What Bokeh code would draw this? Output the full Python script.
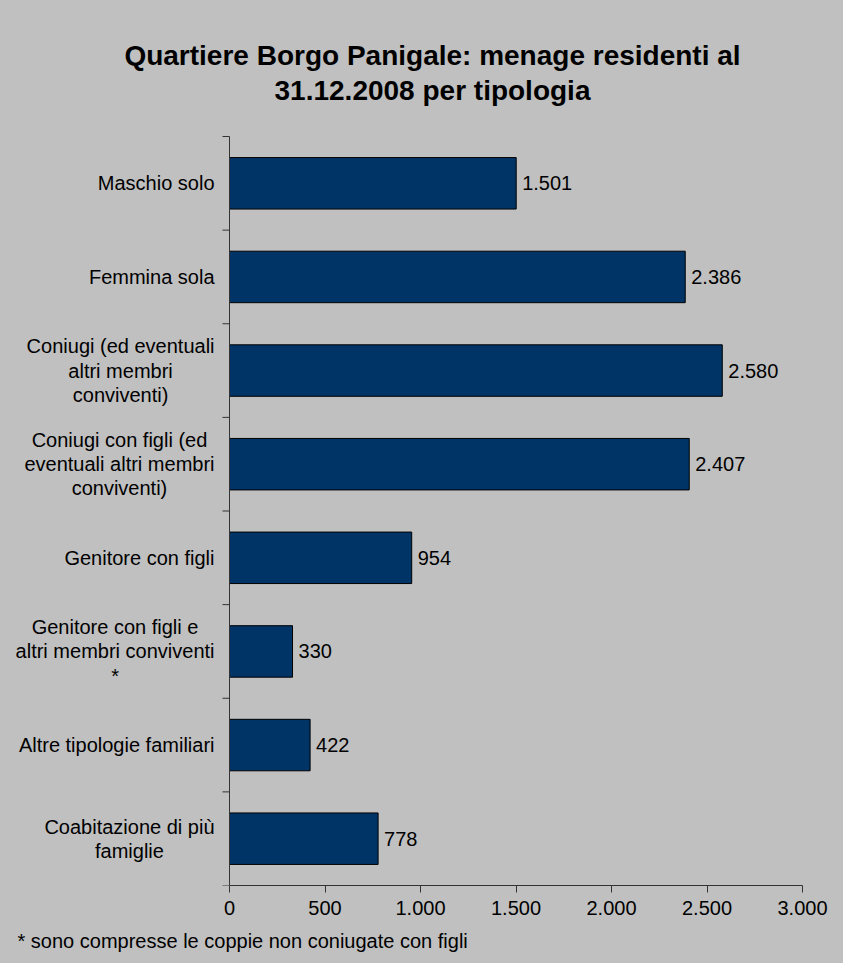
from bokeh.plotting import figure
from bokeh.models import ColumnDataSource, Range1d, FixedTicker, Title
from bokeh.core.properties import value
from bokeh.embed import file_html
from bokeh.resources import INLINE

# ---- data ----
categories = [
    "Maschio solo",
    "Femmina sola",
    "Coniugi (ed eventuali\naltri membri\nconviventi)",
    "Coniugi con figli (ed\neventuali altri membri\nconviventi)",
    "Genitore con figli",
    "Genitore con figli e\naltri membri conviventi\n*",
    "Altre tipologie familiari",
    "Coabitazione di più\nfamiglie",
]
values = [1501, 2386, 2580, 2407, 954, 330, 422, 778]
x_ticks = [0, 500, 1000, 1500, 2000, 2500, 3000]
x_max = 3000
title_text = "Quartiere Borgo Panigale: menage residenti al\n31.12.2008 per tipologia"
footnote = "* sono compresse le coppie non coniugate con figli"

FONT = "Liberation Sans"
BG = "#C0C0C0"
BAR = "#003366"
AXC = "#333333"


def it_fmt(v):
    return f"{v:,}".replace(",", ".")


# Arial / Liberation Sans advance widths (per 1000 em)
AW = {
    'a': 556, 'b': 556, 'c': 500, 'd': 556, 'e': 556, 'f': 278, 'g': 556, 'h': 556,
    'i': 222, 'j': 222, 'k': 500, 'l': 222, 'm': 833, 'n': 556, 'o': 556, 'p': 556,
    'q': 556, 'r': 333, 's': 500, 't': 278, 'u': 556, 'v': 500, 'w': 722, 'x': 500,
    'y': 500, 'z': 500, 'ù': 556, 'A': 667, 'C': 722, 'F': 611, 'G': 778, 'M': 833,
    ' ': 278, '(': 333, ')': 333, '*': 389,
}


def text_w(s, size):
    return max(sum(AW.get(ch, 556) for ch in line) for line in s.split("\n")) * size / 1000.0


# ---- layout (pixels, figure coordinates) ----
W, H = 843, 963
AX_X = 229          # y-axis position from figure left
PLOT_W = 573        # 0..x_max width
TOP_CAT = 136       # top of first category band
AX_Y = 885          # x-axis position from figure top
n = len(categories)
ppx = PLOT_W / x_max                 # pixels per value unit
ppy = (AX_Y - TOP_CAT) / n           # pixels per category


def ux(px):
    return px / ppx


def uy(px):
    return px / ppy


x_start = -ux(AX_X)
x_end = ux(W - AX_X)
y_top = -uy(TOP_CAT)

p = figure(
    width=W, height=H,
    x_range=Range1d(x_start, x_end), y_range=Range1d(n, y_top),
    output_backend="svg", toolbar_location=None,
    min_border_left=0, min_border_right=0,
    min_border_top=0, min_border_bottom=H - AX_Y,
    background_fill_color=None, border_fill_color=None,
)
p.styles = {"background-color": BG}
p.outline_line_color = None
p.xgrid.grid_line_color = None
p.ygrid.grid_line_color = None
p.yaxis.visible = False

ypos = [i + 0.5 for i in range(n)]
src = ColumnDataSource(dict(
    y=ypos, v=values, lbl=[it_fmt(v) for v in values],
))

p.hbar(y="y", left=0, right="v", height=0.55, source=src,
       fill_color=BAR, line_color="black", line_width=1)

p.text(x="v", y="y", text="lbl", source=src, x_offset=6,
       text_align="left", text_baseline="middle",
       text_font=value(FONT), text_font_size="20px", text_color="black")

# x axis (real axis, line restricted to 0..x_max)
xa = p.xaxis[0]
xa.bounds = (0, x_max)
xa.ticker = FixedTicker(ticks=x_ticks)
xa.major_label_overrides = {t: it_fmt(t) for t in x_ticks}
xa.major_label_text_font = FONT
xa.major_label_text_font_size = "20px"
xa.major_label_text_color = "black"
xa.major_label_standoff = 8
xa.major_tick_out = 7
xa.major_tick_in = 0
xa.minor_tick_line_color = None
xa.axis_line_color = AXC
xa.major_tick_line_color = AXC

# category axis: line at x=0 and boundary ticks
bounds = list(range(n + 1))
p.segment(x0=[0], y0=[0], x1=[0], y1=[n], line_color=AXC, line_width=1)
p.segment(x0=[-ux(7)] * len(bounds), y0=bounds, x1=[0] * len(bounds), y1=bounds,
          line_color=AXC, line_width=1)

# category labels, block right-aligned 15px from axis, lines centered
cat_x = [-ux(15 + text_w(c, 20) / 2.0) for c in categories]
p.text(x=cat_x, y=ypos, text=categories,
       text_align="center", text_baseline="middle",
       text_font=value(FONT), text_font_size="20px", text_color="black",
       text_line_height=1.1)

# chart title
p.text(x=[ux(203)], y=[-uy(63.5)], text=[title_text],
       text_align="center", text_baseline="middle",
       text_font=value(FONT), text_font_size="28px", text_font_style="bold",
       text_color="black", text_line_height=1.16)

# footnote
p.add_layout(Title(text=footnote, align="left", offset=17,
                   text_font=FONT, text_font_size="20px",
                   text_font_style="normal", text_color="black",
                   standoff=20), "below")

open("out.html", "w").write(file_html(p, INLINE))
